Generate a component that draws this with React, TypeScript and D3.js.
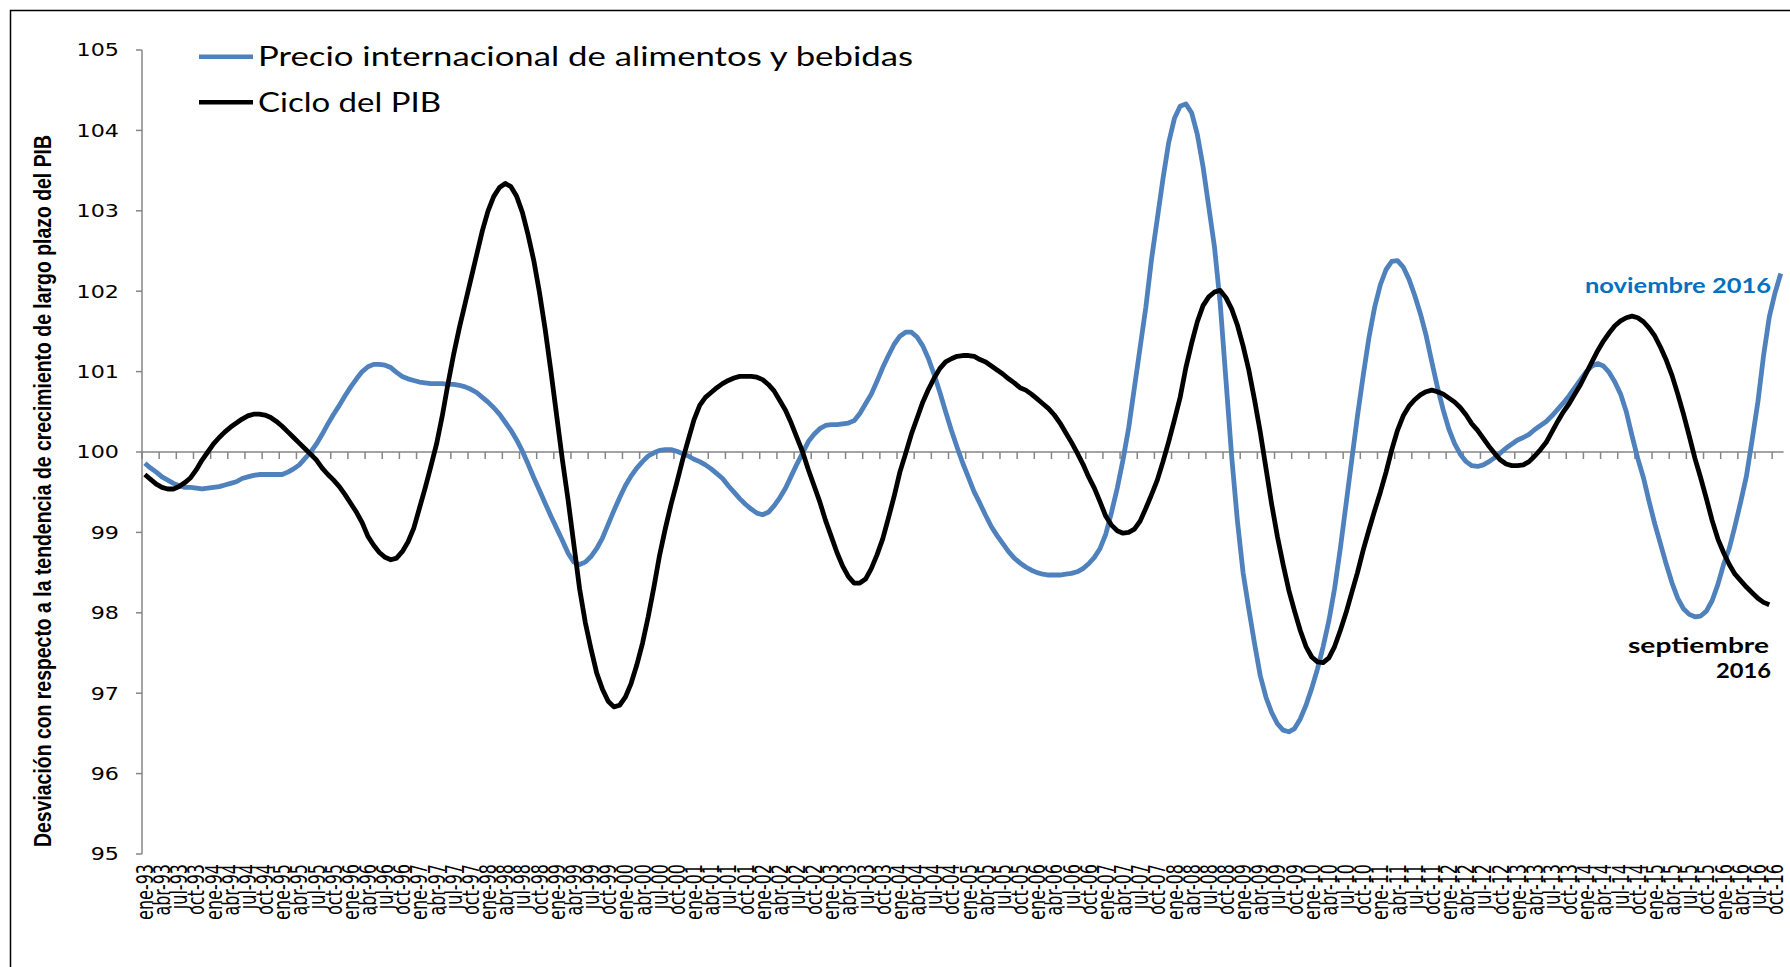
import * as d3 from "d3";

const MONTHS = ["ene", "feb", "mar", "abr", "may", "jun", "jul", "ago", "sep", "oct", "nov", "dic"];
const FIRST_YEAR = 1993;
const yTicks = [95, 96, 97, 98, 99, 100, 101, 102, 103, 104, 105];

// Precio internacional de alimentos y bebidas (ene-93 .. nov-16)
const precioAlimentos = [
  99.86, 99.8, 99.75, 99.69, 99.65, 99.61, 99.58, 99.56, 99.56, 99.55, 99.54, 99.55,
  99.56, 99.57, 99.59, 99.61, 99.63, 99.67, 99.69, 99.71, 99.72, 99.72, 99.72, 99.72,
  99.72, 99.75, 99.79, 99.84, 99.92, 100.0, 100.1, 100.22, 100.35, 100.47, 100.58, 100.7,
  100.81, 100.91, 101.0, 101.06, 101.09, 101.09, 101.08, 101.05, 100.99, 100.94, 100.91, 100.89,
  100.87, 100.86, 100.85, 100.85, 100.85, 100.84, 100.84, 100.83, 100.81, 100.78, 100.74, 100.68,
  100.62, 100.55, 100.47, 100.37, 100.27, 100.15, 100.01, 99.85, 99.68, 99.52, 99.36, 99.2,
  99.05, 98.9, 98.74, 98.63, 98.6, 98.63, 98.7, 98.8, 98.93, 99.1, 99.27, 99.43,
  99.58, 99.7, 99.8, 99.88, 99.95, 99.99, 100.02, 100.03, 100.03, 100.01, 99.98, 99.95,
  99.91, 99.88, 99.84, 99.79, 99.73, 99.67, 99.58, 99.5, 99.42, 99.35, 99.29, 99.24,
  99.22, 99.25, 99.33, 99.43, 99.55, 99.7, 99.85, 99.99, 100.13, 100.22, 100.29, 100.33,
  100.34, 100.34, 100.35, 100.36, 100.39, 100.48, 100.6, 100.72, 100.88, 101.05, 101.2, 101.34,
  101.44, 101.49, 101.49, 101.43, 101.32, 101.16, 100.96, 100.74, 100.5, 100.27, 100.06, 99.86,
  99.68, 99.5, 99.36, 99.21, 99.07, 98.96, 98.86, 98.76, 98.68, 98.62, 98.57, 98.53,
  98.5, 98.48, 98.47, 98.47, 98.47, 98.48, 98.49, 98.51, 98.55, 98.61, 98.69, 98.8,
  98.98, 99.25, 99.55, 99.9, 100.3, 100.8, 101.3, 101.8, 102.4, 102.9, 103.4, 103.85,
  104.15, 104.3, 104.33, 104.22, 103.95, 103.55, 103.05, 102.55, 101.85, 100.9, 99.95, 99.15,
  98.5, 98.05, 97.62, 97.22, 96.95, 96.76, 96.62, 96.54, 96.52, 96.56, 96.68, 96.85,
  97.06, 97.3, 97.58, 97.9, 98.3, 98.8, 99.35, 99.9, 100.45, 100.95, 101.42, 101.8,
  102.08, 102.27, 102.37, 102.38, 102.3, 102.15, 101.95, 101.72, 101.45, 101.12, 100.8, 100.52,
  100.28, 100.1, 99.97, 99.88, 99.83, 99.82, 99.84, 99.88, 99.93, 99.99, 100.05, 100.1,
  100.15, 100.18, 100.22, 100.28, 100.33, 100.38, 100.45, 100.53, 100.61, 100.7, 100.8, 100.9,
  101.0, 101.07, 101.1, 101.07, 100.99, 100.87, 100.72, 100.5, 100.2, 99.92, 99.68, 99.38,
  99.1, 98.85, 98.6, 98.37, 98.18, 98.05, 97.98, 97.95, 97.96, 98.02, 98.15, 98.35,
  98.6, 98.8, 99.08, 99.38, 99.7, 100.15, 100.62, 101.2, 101.68, 101.98, 102.22,
];

// Ciclo del PIB (ene-93 .. sep-16)
const cicloPIB = [
  99.72, 99.66, 99.6, 99.56, 99.54, 99.54, 99.57, 99.62, 99.68, 99.78, 99.9, 100.0,
  100.1, 100.18, 100.25, 100.31, 100.36, 100.41, 100.45, 100.47, 100.47, 100.46, 100.43, 100.38,
  100.32, 100.25, 100.18, 100.11, 100.04, 99.97, 99.9, 99.8, 99.72, 99.65, 99.57, 99.47,
  99.36, 99.25, 99.12, 98.95, 98.84, 98.75, 98.69, 98.66, 98.68, 98.76, 98.88, 99.05,
  99.3, 99.55, 99.82, 100.1, 100.45, 100.85, 101.22, 101.55, 101.85, 102.15, 102.45, 102.75,
  103.0, 103.18, 103.29, 103.34, 103.3, 103.18, 102.98, 102.7, 102.38, 101.98, 101.52, 101.0,
  100.45, 99.9, 99.4, 98.85, 98.3, 97.88, 97.55, 97.25, 97.05, 96.9, 96.83, 96.85,
  96.95, 97.12, 97.35, 97.62, 97.95, 98.32, 98.72, 99.05, 99.35, 99.62, 99.9, 100.15,
  100.4, 100.58, 100.68, 100.74, 100.8, 100.85, 100.89, 100.92, 100.94, 100.94, 100.94, 100.93,
  100.9, 100.84, 100.76, 100.64, 100.52, 100.36, 100.18, 100.0, 99.78, 99.58, 99.38, 99.15,
  98.95, 98.75, 98.58, 98.45, 98.37, 98.37, 98.42, 98.55, 98.72, 98.92, 99.18, 99.45,
  99.75, 99.98, 100.22, 100.42, 100.62, 100.78, 100.92, 101.04, 101.12, 101.16, 101.19, 101.2,
  101.2, 101.19, 101.15, 101.12, 101.07, 101.02, 100.97, 100.91, 100.86, 100.8, 100.77, 100.72,
  100.66, 100.6, 100.54, 100.46, 100.36, 100.24, 100.12, 99.99, 99.85, 99.69, 99.55, 99.38,
  99.2, 99.09, 99.02, 98.99, 99.0, 99.04, 99.14, 99.3, 99.47, 99.65, 99.88, 100.13,
  100.4, 100.68, 101.05, 101.35, 101.62, 101.82, 101.93, 101.99, 102.01, 101.92, 101.78, 101.58,
  101.32, 101.02, 100.65, 100.25, 99.8, 99.35, 98.95, 98.6, 98.28, 98.02, 97.78, 97.58,
  97.45, 97.39, 97.38, 97.44, 97.58, 97.78, 98.0, 98.25, 98.5, 98.78, 99.03, 99.27,
  99.5, 99.75, 100.03, 100.27, 100.45, 100.57, 100.65, 100.71, 100.75, 100.77, 100.75, 100.72,
  100.67, 100.62, 100.55, 100.46, 100.35, 100.27, 100.17, 100.07, 99.98, 99.9, 99.85, 99.83,
  99.83, 99.84, 99.88, 99.95, 100.03, 100.12, 100.25, 100.38, 100.5, 100.6, 100.72, 100.84,
  100.98, 101.12, 101.26, 101.38, 101.48, 101.57, 101.63, 101.67, 101.69, 101.67, 101.62, 101.54,
  101.44, 101.3, 101.14, 100.95, 100.72, 100.47, 100.2, 99.92, 99.68, 99.42, 99.15, 98.92,
  98.75, 98.6, 98.48, 98.4, 98.32, 98.25, 98.18, 98.13, 98.1,
];

const categories = precioAlimentos.map(
  (_, i) => `${MONTHS[i % 12]}-${String((FIRST_YEAR + Math.floor(i / 12)) % 100).padStart(2, "0")}`,
);

const W = 1790;
const H = 967;
const SX = 1.27; // the original picture is stretched horizontally
const BLUE = "#4F81BD";
const GRAY = "#868686";

export default function App() {
  const margin = { left: 142, right: 1783.6, top: 50, bottom: 854 };

  const x = d3.scaleBand<string>().domain(categories).range([margin.left, margin.right]).padding(0);
  const y = d3.scaleLinear().domain([95, 105]).range([margin.bottom, margin.top]);
  const cx = (i: number) => (x(categories[i]) ?? 0) + x.bandwidth() / 2;

  const line = d3
    .line<number>()
    .x((_, i) => cx(i))
    .y((d) => y(d));

  const y100 = y(100);
  const quarterIdx = categories.map((_, i) => i).filter((i) => i % 3 === 0);

  return (
    <svg
      width={W}
      height={H}
      style={{ position: "absolute", left: 0, top: 0, background: "#fff" }}
    >
      <rect x={10.5} y={10.5} width={W + 20} height={H + 20} fill="#fff" stroke="#000" strokeWidth={1.5} />

      {/* y axis */}
      <line x1={margin.left} x2={margin.left} y1={y(105)} y2={y(95)} stroke={GRAY} strokeWidth={1.5} />
      {yTicks.map((t) => (
        <g key={t}>
          <line x1={margin.left - 6} x2={margin.left} y1={y(t)} y2={y(t)} stroke={GRAY} strokeWidth={1.5} />
          <g transform={`translate(119,${y(t)}) scale(${SX},1)`}>
            <text textAnchor="end" dy="0.36em" fontFamily="DejaVu Sans" fontSize={17.5} fill="#000">
              {t}
            </text>
          </g>
        </g>
      ))}

      {/* category axis crossing at 100 */}
      <line x1={margin.left} x2={margin.right} y1={y100} y2={y100} stroke={GRAY} strokeWidth={1.5} />
      {quarterIdx.map((i) => (
        <line
          key={"t" + i}
          x1={x(categories[i])}
          x2={x(categories[i])}
          y1={y100}
          y2={y100 + 7}
          stroke={GRAY}
          strokeWidth={1.5}
        />
      ))}
      {quarterIdx.map((i) => (
        <g key={"l" + i} transform={`translate(${cx(i)},864) scale(1.4,1) rotate(-90)`}>
          <text textAnchor="end" dy="0.36em" fontFamily="DejaVu Sans" fontSize={16} fill="#000">
            {categories[i]}
          </text>
        </g>
      ))}

      {/* series */}
      <path d={line(precioAlimentos) ?? ""} fill="none" stroke={BLUE} strokeWidth={4.8} strokeLinejoin="round" />
      <path d={line(cicloPIB) ?? ""} fill="none" stroke="#000" strokeWidth={4.8} strokeLinejoin="round" />

      {/* legend */}
      <line x1={199} x2={253} y1={56.7} y2={56.7} stroke={BLUE} strokeWidth={4.5} />
      <text x={258} y={66} fontFamily="Lato" fontSize={26} textLength={655} lengthAdjust="spacingAndGlyphs">
        Precio internacional de alimentos y bebidas
      </text>
      <line x1={199} x2={253} y1={102.3} y2={102.3} stroke="#000" strokeWidth={4.5} />
      <text x={258} y={112} fontFamily="Lato" fontSize={26} textLength={183} lengthAdjust="spacingAndGlyphs">
        Ciclo del PIB
      </text>

      {/* y axis title */}
      <g transform={`translate(42,491) scale(${SX},1) rotate(-90)`}>
        <text
          textAnchor="middle"
          dy="0.35em"
          fontFamily="Liberation Sans Narrow, Liberation Sans"
          fontWeight="bold"
          fontSize={19.5}
          textLength={712}
          lengthAdjust="spacingAndGlyphs"
        >
          Desviación con respecto a la tendencia de crecimiento de largo plazo del PIB
        </text>
      </g>

      {/* annotations */}
      <text
        x={1585}
        y={293}
        fontFamily="Lato"
        fontWeight="bold"
        fontSize={21}
        fill="#0070C0"
        textLength={186}
        lengthAdjust="spacingAndGlyphs"
      >
        noviembre 2016
      </text>
      <text
        x={1628}
        y={653}
        fontFamily="Lato"
        fontWeight="bold"
        fontSize={21}
        fill="#000"
        textLength={141}
        lengthAdjust="spacingAndGlyphs"
      >
        septiembre
      </text>
      <text
        x={1716}
        y={678}
        fontFamily="Lato"
        fontWeight="bold"
        fontSize={21}
        fill="#000"
        textLength={55}
        lengthAdjust="spacingAndGlyphs"
      >
        2016
      </text>
    </svg>
  );
}
